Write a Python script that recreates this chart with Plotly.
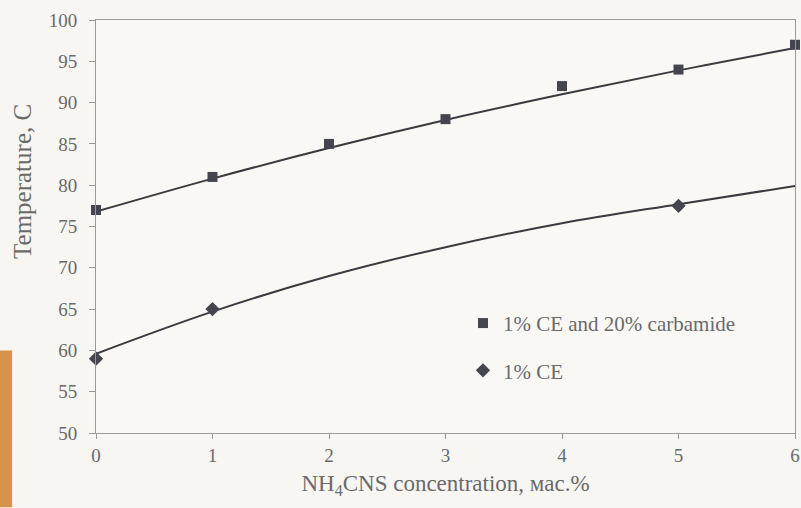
import plotly.graph_objects as go

# NH4CNS concentration, mass %
conc = [0, 1, 2, 3, 4, 5, 6]

# Gelation temperature, 1% CE + 20% carbamide
temp_ce_carb = [77, 81, 85, 88, 92, 94, 97]
# Gelation temperature, 1% CE only (measured points)
conc_ce = [0, 1, 5]
temp_ce = [59, 65, 77.5]

# Smoothed trend curves at each concentration
trend_ce_carb = [76.8, 80.8, 84.5, 87.9, 91.0, 93.9, 96.6]
trend_ce = [59.6, 64.7, 69.0, 72.5, 75.4, 77.7, 79.9]

y_ticks = [50, 55, 60, 65, 70, 75, 80, 85, 90, 95, 100]

ink = "#3a3a40"
grey = "#6a6a6a"
serif = "Liberation Serif"

fig = go.Figure()

fig.add_trace(go.Scatter(
    x=conc, y=trend_ce_carb, mode="lines",
    line=dict(color=ink, width=2, shape="spline", smoothing=1.0),
    showlegend=False, hoverinfo="skip", cliponaxis=False))
fig.add_trace(go.Scatter(
    x=conc, y=trend_ce, mode="lines",
    line=dict(color=ink, width=2, shape="spline", smoothing=1.0),
    showlegend=False, hoverinfo="skip", cliponaxis=False))

fig.add_trace(go.Scatter(
    x=conc, y=temp_ce_carb, mode="markers",
    name="1% CE and 20% carbamide", legendgroup="a",
    marker=dict(symbol="square", size=10, color="#45454f"),
    cliponaxis=False))
fig.add_trace(go.Scatter(
    x=conc_ce, y=temp_ce, mode="markers",
    name="1% CE", legendgroup="b",
    marker=dict(symbol="diamond", size=11, color="#45454f"),
    cliponaxis=False))

# y-axis title placed as rotated text
fig.add_annotation(
    text="Temperature, C", xref="paper", yref="paper",
    x=-0.106, y=0.61, xanchor="center", yanchor="middle",
    textangle=-90, showarrow=False,
    font=dict(family=serif, size=25, color=grey))

# page edge strip on the left
fig.add_shape(type="rect", xref="paper", yref="paper",
              x0=-0.138, x1=-0.12, y0=-0.18, y1=0.2,
              fillcolor="#d8934a", line=dict(width=0), layer="below")

fig.update_layout(
    template="none",
    width=801, height=508,
    margin=dict(l=96, r=6, t=20, b=75),
    paper_bgcolor="#f7f6f2",
    plot_bgcolor="#f9f8f5",
    font=dict(family=serif, color=grey),
    showlegend=True,
    legend=dict(
        x=0.525, y=0.315, xanchor="left", yanchor="top",
        bgcolor="rgba(0,0,0,0)", itemwidth=30,
        tracegroupgap=17,
        font=dict(family=serif, size=21, color=grey)),
    xaxis=dict(
        range=[0, 6], tickvals=conc, ticktext=[str(c) for c in conc],
        showgrid=False, zeroline=False,
        showline=True, linecolor="#9a9a9a", linewidth=1, mirror=True,
        ticks="outside", ticklen=5, tickcolor="#9a9a9a",
        tickfont=dict(family=serif, size=19, color=grey),
        title=dict(text="NH<sub>4</sub>CNS concentration, мас.%",
                   font=dict(family=serif, size=23, color=grey),
                   standoff=10)),
    yaxis=dict(
        range=[50, 100], tickvals=y_ticks,
        showgrid=False, zeroline=False,
        showline=True, linecolor="#9a9a9a", linewidth=1, mirror=True,
        ticks="outside", ticklen=6, tickcolor="#9a9a9a",
        ticklabelstandoff=8,
        tickfont=dict(family=serif, size=19, color=grey)),
)

fig.write_html("out.html")
